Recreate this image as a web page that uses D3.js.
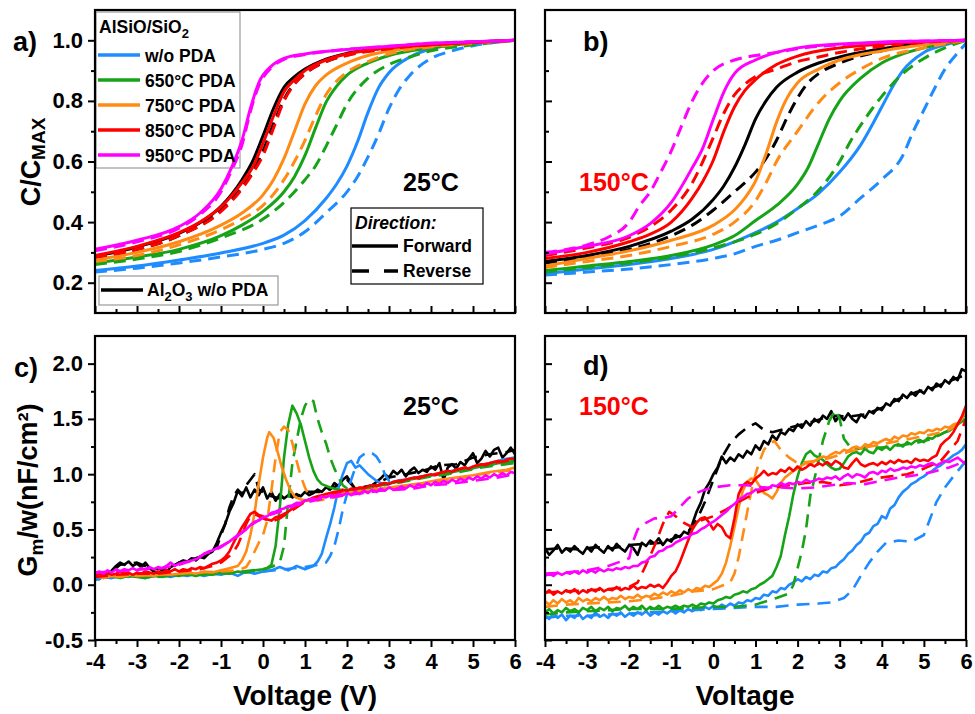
<!DOCTYPE html>
<html><head><meta charset="utf-8">
<script src="https://cdn.jsdelivr.net/npm/d3@7"></script>
<style>
body{margin:0;background:#fff}
svg text{font-family:"Liberation Sans",Arial,sans-serif;font-weight:bold}
</style>
</head><body>
<svg id="chart" width="975" height="714"></svg>
<script>
// ---------- labels / categories ----------
const sampleNames = ["w/o PDA","650°C PDA","750°C PDA","850°C PDA","950°C PDA"];
const xTicks = [-4,-3,-2,-1,0,1,2,3,4,5,6];
const xMinor = [-3.5,-2.5,-1.5,-0.5,0.5,1.5,2.5,3.5,4.5,5.5];
const cTicks = [0.2,0.4,0.6,0.8,1.0];
const cMinor = [0.3,0.5,0.7,0.9];
const gTicks = [-0.5,0,0.5,1.0,1.5,2.0];
const gMinor = [-0.25,0.25,0.75,1.25,1.75];

// fine voltage grid used by the densely sampled (noisy) Gm/w sweeps
const vFine = [-4,-3.9,-3.8,-3.7,-3.6,-3.5,-3.4,-3.3,-3.2,-3.1,
 -3,-2.9,-2.8,-2.7,-2.6,-2.5,-2.4,-2.3,-2.2,-2.1,
 -2,-1.9,-1.8,-1.7,-1.6,-1.5,-1.4,-1.3,-1.2,-1.1,
 -1,-0.9,-0.8,-0.7,-0.6,-0.5,-0.4,-0.3,-0.2,-0.1,
 0,0.1,0.2,0.3,0.4,0.5,0.6,0.7,0.8,0.9,
 1,1.1,1.2,1.3,1.4,1.5,1.6,1.7,1.8,1.9,
 2,2.1,2.2,2.3,2.4,2.5,2.6,2.7,2.8,2.9,
 3,3.1,3.2,3.3,3.4,3.5,3.6,3.7,3.8,3.9,
 4,4.1,4.2,4.3,4.4,4.5,4.6,4.7,4.8,4.9,
 5,5.1,5.2,5.3,5.4,5.5,5.6,5.7,5.8,5.9,6];

// ---------- panel a : C/Cmax, 25°C ----------
const aBlackF=[[-4,.287],[-3,.318],[-2,.363],[-1.5,.398],[-1,.452],[-0.5,.54],[-0.25,.6],[0,.685],[0.25,.775],[0.5,.845],[0.75,.88],[1,.905],[1.5,.938],[2,.957],[3,.976],[4,.986],[5,.994],[6,1]];
const aBlackR=[[-4,.283],[-3,.31],[-2,.355],[-1,.44],[-0.5,.515],[-0.25,.565],[0,.635],[0.25,.725],[0.5,.805],[0.75,.858],[1,.89],[1.5,.93],[2,.952],[3,.973],[4,.986],[5,.994],[6,1]];
const aBlueF=[[-4,.24],[-3,.255],[-2,.275],[-1,.298],[0,.33],[0.5,.357],[1,.405],[1.5,.478],[1.75,.525],[2,.585],[2.25,.665],[2.5,.762],[2.75,.843],[3,.893],[3.5,.945],[4,.972],[5,.992],[6,1]];
const aBlueR=[[-4,.235],[-3,.248],[-2,.265],[-1,.285],[0,.31],[0.5,.33],[1,.368],[1.5,.43],[2,.5],[2.25,.55],[2.5,.615],[2.75,.69],[3,.775],[3.25,.84],[3.5,.885],[4,.94],[4.5,.965],[5,.982],[6,1]];
const aGreenF=[[-4,.265],[-3,.285],[-2,.31],[-1,.355],[-0.5,.39],[0,.435],[0.5,.5],[0.75,.55],[1,.62],[1.25,.71],[1.5,.795],[1.75,.848],[2,.885],[2.5,.925],[3,.95],[4,.975],[5,.99],[6,1]];
const aGreenR=[[-4,.26],[-3,.278],[-2,.303],[-1,.348],[0,.41],[0.5,.465],[1,.54],[1.25,.585],[1.5,.65],[1.75,.72],[2,.79],[2.5,.875],[3,.92],[3.5,.945],[4,.965],[5,.985],[6,1]];
const aOrangeF=[[-4,.275],[-3,.3],[-2,.335],[-1,.39],[-0.5,.43],[0,.49],[0.25,.54],[0.5,.61],[0.75,.7],[1,.79],[1.25,.85],[1.5,.885],[2,.925],[2.5,.95],[3,.965],[4,.982],[5,.993],[6,1]];
const aOrangeR=[[-4,.27],[-3,.29],[-2,.325],[-1,.375],[-0.5,.41],[0,.455],[0.5,.54],[0.75,.6],[1,.67],[1.25,.75],[1.5,.82],[1.75,.865],[2,.895],[2.5,.93],[3,.955],[4,.978],[5,.99],[6,1]];
const aRedF=[[-4,.29],[-3,.32],[-2,.365],[-1.5,.4],[-1,.45],[-0.5,.53],[-0.25,.58],[0,.66],[0.25,.75],[0.5,.83],[0.75,.87],[1,.9],[1.5,.935],[2,.955],[3,.975],[4,.985],[5,.993],[6,1]];
const aRedR=[[-4,.285],[-3,.31],[-2,.355],[-1,.435],[-0.5,.51],[-0.25,.56],[0,.62],[0.25,.71],[0.5,.8],[0.75,.855],[1,.89],[1.5,.93],[2,.95],[3,.972],[4,.985],[5,.993],[6,1]];
const aMagF=[[-4,.31],[-3,.34],[-2,.385],[-1.5,.43],[-1,.51],[-0.75,.58],[-0.5,.67],[-0.3,.775],[-0.1,.86],[0.2,.915],[0.5,.94],[1,.955],[2,.97],[3,.98],[4,.99],[5,.995],[6,1]];
const aMagR=[[-4,.305],[-3,.335],[-2,.38],[-1.5,.425],[-1,.5],[-0.75,.57],[-0.5,.655],[-0.3,.765],[-0.1,.85],[0.2,.91],[0.5,.937],[1,.953],[2,.97],[3,.98],[4,.99],[5,.995],[6,1]];

// ---------- panel b : C/Cmax, 150°C ----------
const bBlackF=[[-4,.27],[-3,.29],[-2,.32],[-1,.37],[-0.5,.41],[0,.475],[0.25,.52],[0.5,.58],[0.75,.655],[1,.74],[1.25,.8],[1.5,.845],[2,.895],[2.5,.925],[3,.945],[4,.972],[5,.99],[6,1]];
const bBlackR=[[-4,.265],[-3,.285],[-2,.31],[-1,.355],[-0.5,.39],[0,.44],[0.5,.5],[1,.565],[1.25,.61],[1.5,.67],[1.75,.745],[2,.81],[2.25,.86],[2.5,.89],[3,.925],[4,.965],[5,.988],[6,1]];
const bBlueF=[[-4,.23],[-3,.245],[-2,.26],[-1,.28],[0,.31],[0.5,.335],[1,.365],[1.5,.4],[2,.445],[2.5,.495],[3,.565],[3.5,.655],[4,.78],[4.25,.845],[4.5,.9],[5,.96],[5.5,.985],[6,1]];
const bBlueR=[[-4,.225],[-3,.235],[-2,.245],[-1,.26],[0,.28],[0.5,.295],[1,.32],[1.5,.34],[2,.365],[2.5,.39],[3,.42],[3.5,.48],[4,.54],[4.5,.62],[4.75,.7],[5,.77],[5.25,.84],[5.5,.905],[5.75,.95],[6,.99]];
const bGreenF=[[-4,.24],[-3,.255],[-2,.27],[-1,.29],[0,.325],[0.5,.355],[1,.405],[1.5,.455],[2,.525],[2.25,.58],[2.5,.66],[2.75,.74],[3,.8],[3.5,.875],[4,.925],[4.5,.955],[5,.975],[6,1]];
const bGreenR=[[-4,.235],[-3,.25],[-2,.265],[-1,.285],[0,.315],[1,.36],[1.5,.395],[2,.445],[2.5,.505],[3,.6],[3.25,.665],[3.5,.72],[3.75,.77],[4,.815],[4.5,.89],[5,.94],[5.5,.975],[6,1]];
const bOrangeF=[[-4,.255],[-3,.28],[-2,.305],[-1,.34],[0,.39],[0.5,.44],[0.75,.48],[1,.535],[1.25,.625],[1.5,.73],[1.75,.81],[2,.86],[2.5,.905],[3,.935],[4,.965],[5,.985],[6,1]];
const bOrangeR=[[-4,.25],[-3,.27],[-2,.29],[-1,.32],[0,.36],[0.5,.4],[1,.47],[1.25,.53],[1.5,.6],[2,.7],[2.5,.795],[3,.86],[3.5,.905],[4,.94],[5,.975],[6,1]];
const bRedF=[[-4,.28],[-3,.3],[-2,.335],[-1.5,.36],[-1,.4],[-0.5,.48],[-0.25,.535],[0,.605],[0.25,.7],[0.5,.78],[0.75,.835],[1,.87],[1.5,.92],[2,.948],[3,.975],[4,.987],[5,.995],[6,1]];
const bRedR=[[-4,.29],[-3,.315],[-2,.35],[-1.5,.385],[-1,.44],[-0.5,.53],[-0.25,.6],[0,.68],[0.25,.76],[0.5,.82],[0.75,.855],[1,.88],[1.5,.905],[2,.93],[2.5,.945],[3,.96],[4,.98],[5,.993],[6,1]];
const bMagF=[[-4,.295],[-3,.32],[-2,.355],[-1.5,.395],[-1,.465],[-0.5,.58],[-0.25,.645],[0,.74],[0.25,.83],[0.5,.89],[1,.935],[1.5,.96],[2,.975],[3,.988],[4,.994],[6,1]];
const bMagR=[[-4,.3],[-3,.325],[-2.5,.35],[-2,.4],[-1.75,.455],[-1.5,.5],[-1.25,.565],[-1,.635],[-0.75,.72],[-0.5,.8],[-0.25,.86],[0,.9],[0.5,.935],[1,.95],[1.5,.96],[2,.972],[3,.985],[4,.993],[6,1]];

// ---------- panel c : Gm/w, 25°C ----------
// dense sweeps (values on vFine)
const cBlackF=[.06,.05,.09,.07,.13,.17,.2,.18,.21,.17,
 .19,.16,.2,.15,.12,.1,.13,.11,.16,.18,
 .2,.22,.21,.24,.22,.25,.24,.28,.3,.38,
 .47,.55,.66,.74,.85,.8,.88,.79,.86,.81,
 .88,.78,.84,.76,.82,.78,.81,.79,.82,.8,
 .84,.81,.83,.86,.84,.88,.86,.92,.89,.95,
 .98,.92,.86,.83,.87,.84,.9,.93,.96,1.0,
 .97,1.03,1.0,1.04,.98,1.03,1.06,1.01,1.04,1.02,
 1.07,1.04,1.1,.95,1.06,1.09,1.05,1.11,1.08,1.14,
 1.19,1.1,1.14,1.21,1.16,1.22,1.24,1.15,1.19,1.24,1.18];
const cMagF=[.1,.12,.1,.13,.11,.14,.12,.14,.13,.15,
 .13,.15,.14,.16,.14,.16,.15,.17,.2,.17,
 .19,.2,.21,.22,.23,.25,.28,.3,.31,.33,
 .35,.37,.39,.42,.45,.47,.5,.54,.57,.58,
 .61,.62,.65,.66,.68,.69,.71,.72,.74,.74,
 .76,.77,.78,.77,.8,.79,.81,.8,.82,.81,
 .83,.81,.84,.82,.85,.83,.86,.84,.87,.85,
 .88,.86,.87,.89,.87,.9,.88,.91,.89,.92,
 .9,.93,.91,.94,.92,.95,.93,.96,.94,.97,
 .95,.98,.96,.99,.97,1.0,.98,1.01,.99,1.02,1.01];
const cRedF=[.08,.1,.09,.11,.09,.1,.12,.1,.11,.09,
 .11,.1,.12,.11,.1,.12,.11,.13,.12,.14,
 .12,.14,.13,.15,.14,.16,.15,.17,.19,.2,
 .22,.25,.3,.38,.45,.52,.58,.64,.66,.63,
 .62,.59,.58,.61,.62,.64,.66,.69,.72,.73,
 .76,.77,.79,.8,.81,.82,.83,.84,.84,.86,
 .85,.87,.86,.88,.87,.89,.9,.89,.91,.92,
 .91,.93,.94,.93,.95,.96,.97,.96,.98,.99,
 1.0,.99,1.01,1.02,1.03,1.02,1.04,1.05,1.06,1.05,
 1.07,1.08,1.09,1.08,1.1,1.11,1.12,1.11,1.13,1.14,1.14];
// sparse sweeps ([V, Gm/w] pairs)
const cBlackR=[[-4,.07],[-3.6,.12],[-3.4,.18],[-3,.2],[-2.6,.14],[-2.2,.15],[-2,.2],[-1.6,.24],[-1.3,.28],[-1.1,.34],[-1,.45],[-0.9,.55],[-0.8,.7],[-0.7,.8],[-0.6,.86],[-0.5,.82],[-0.4,.9],[-0.3,.95],[-0.2,1.0],[-0.1,.86],[0,.84],[0.2,.8],[0.4,.78],[0.6,.83],[0.8,.79],[1,.84],[1.4,.84],[1.8,.9],[2,.95],[2.2,.87],[2.6,.9],[3,.97],[3.4,1.0],[3.8,1.03],[4.2,1.08],[4.6,1.09],[5,1.15],[5.4,1.18],[5.8,1.2],[6,1.22]];
const cBlueF=[[-4,.04],[-3.8,.07],[-3.6,.06],[-3.4,.08],[-3.2,.07],[-3,.09],[-2.8,.06],[-2.6,.08],[-2.4,.09],[-2.2,.07],[-2,.09],[-1.8,.08],[-1.6,.1],[-1.4,.08],[-1.2,.1],[-1,.09],[-0.8,.11],[-0.6,.08],[-0.4,.12],[-0.2,.1],[0,.12],[0.2,.13],[0.4,.16],[0.6,.13],[0.8,.17],[1,.14],[1.2,.17],[1.3,.21],[1.4,.28],[1.5,.42],[1.6,.55],[1.7,.7],[1.8,.88],[1.9,1.0],[2,1.1],[2.1,1.12],[2.2,1.06],[2.3,1.08],[2.5,1.0],[2.7,.94],[2.9,.9],[3.1,.93],[3.4,.95],[3.8,.98],[4.2,1.0],[4.6,1.04],[5,1.06],[5.4,1.1],[5.8,1.14],[6,1.15]];
const cBlueR=[[-4,.06],[-3.5,.07],[-3,.08],[-2.5,.08],[-2,.09],[-1.5,.09],[-1,.1],[-0.5,.11],[0,.12],[0.5,.14],[1,.16],[1.3,.18],[1.5,.2],[1.6,.26],[1.7,.35],[1.8,.5],[1.9,.68],[2,.82],[2.1,.95],[2.2,1.06],[2.3,1.15],[2.4,1.18],[2.5,1.2],[2.6,1.19],[2.7,1.16],[2.8,1.1],[2.9,1.0],[3,.94],[3.4,.95],[3.8,.98],[4.2,1.0],[4.6,1.02],[5,1.05],[5.4,1.08],[6,1.12]];
const cGreenF=[[-4,.07],[-3.8,.09],[-3.6,.08],[-3.4,.06],[-3.2,.08],[-3,.07],[-2.8,.06],[-2.6,.08],[-2.4,.07],[-2.2,.09],[-2,.08],[-1.8,.1],[-1.6,.08],[-1.4,.1],[-1.2,.09],[-1,.11],[-0.8,.1],[-0.6,.12],[-0.4,.11],[-0.2,.13],[0,.14],[0.1,.15],[0.2,.18],[0.3,.35],[0.4,.7],[0.5,1.15],[0.6,1.45],[0.7,1.62],[0.8,1.55],[0.9,1.45],[1.0,1.3],[1.1,1.15],[1.2,1.03],[1.3,.95],[1.4,.91],[1.6,.88],[1.8,.86],[2,.85],[2.4,.87],[2.8,.9],[3.2,.93],[3.6,.96],[4,.99],[4.4,1.01],[4.8,1.04],[5.2,1.07],[5.6,1.1],[6,1.12]];
const cGreenR=[[-4,.07],[-3.5,.07],[-3,.08],[-2.5,.07],[-2,.09],[-1.5,.09],[-1,.1],[-0.5,.12],[0,.14],[0.2,.16],[0.4,.2],[0.5,.35],[0.6,.75],[0.7,1.1],[0.8,1.3],[0.9,1.5],[1.0,1.62],[1.1,1.68],[1.2,1.66],[1.3,1.5],[1.4,1.38],[1.5,1.28],[1.6,1.15],[1.7,1.05],[1.8,.97],[1.9,.9],[2.0,.87],[2.4,.87],[2.8,.9],[3.2,.92],[3.6,.95],[4,.98],[4.4,1.0],[4.8,1.03],[5.2,1.06],[5.6,1.08],[6,1.1]];
const cOrangeF=[[-4,.08],[-3.8,.06],[-3.6,.08],[-3.4,.07],[-3.2,.09],[-3,.08],[-2.8,.09],[-2.6,.08],[-2.4,.1],[-2.2,.09],[-2,.1],[-1.8,.11],[-1.6,.1],[-1.4,.12],[-1.2,.11],[-1,.13],[-0.8,.15],[-0.6,.17],[-0.5,.22],[-0.4,.3],[-0.3,.45],[-0.2,.65],[-0.1,.92],[0,1.15],[0.1,1.33],[0.15,1.38],[0.25,1.33],[0.35,1.2],[0.45,1.06],[0.55,.95],[0.65,.86],[0.75,.8],[0.9,.77],[1.1,.76],[1.4,.79],[1.8,.82],[2.2,.84],[2.6,.86],[3,.88],[3.4,.9],[3.8,.92],[4.2,.95],[4.6,.97],[5,.99],[5.4,1.02],[5.8,1.04],[6,1.06]];
const cOrangeR=[[-4,.07],[-3.5,.08],[-3,.08],[-2.5,.09],[-2,.1],[-1.5,.11],[-1,.12],[-0.6,.13],[-0.4,.16],[-0.3,.22],[-0.2,.3],[-0.1,.38],[0,.45],[0.1,.58],[0.2,.85],[0.3,1.15],[0.4,1.38],[0.5,1.43],[0.6,1.4],[0.7,1.28],[0.8,1.12],[0.9,.98],[1.0,.88],[1.1,.8],[1.3,.76],[1.6,.78],[2,.82],[2.4,.84],[2.8,.86],[3.2,.88],[3.6,.9],[4,.92],[4.4,.95],[4.8,.97],[5.2,1.0],[5.6,1.02],[6,1.04]];
const cRedR=[[-4,.07],[-3.5,.09],[-3,.1],[-2.5,.1],[-2,.12],[-1.5,.14],[-1.2,.17],[-1,.2],[-0.8,.26],[-0.7,.3],[-0.6,.36],[-0.5,.45],[-0.4,.55],[-0.3,.62],[-0.2,.64],[0,.6],[0.2,.57],[0.4,.6],[0.6,.65],[0.8,.7],[1,.75],[1.4,.8],[1.8,.84],[2.2,.87],[2.6,.89],[3,.92],[3.4,.95],[3.8,.98],[4.2,1.01],[4.6,1.04],[5,1.07],[5.4,1.1],[6,1.13]];
const cMagR=[[-4,.11],[-3.6,.12],[-3.2,.13],[-2.8,.14],[-2.4,.15],[-2,.18],[-1.6,.23],[-1.4,.28],[-1.2,.3],[-1,.34],[-0.8,.39],[-0.6,.44],[-0.4,.51],[-0.2,.56],[0,.61],[0.4,.66],[0.8,.72],[1.2,.76],[1.6,.79],[2,.81],[2.4,.83],[2.8,.85],[3.2,.86],[3.6,.87],[4,.9],[4.4,.91],[4.8,.93],[5.2,.95],[5.6,.97],[6,1.0]];

// ---------- panel d : Gm/w, 150°C ----------
// dense forward sweeps (values on vFine)
const dBlackF=[.33,.27,.31,.36,.29,.33,.3,.35,.31,.28,
 .34,.3,.36,.32,.29,.35,.31,.37,.33,.3,
 .36,.33,.27,.38,.35,.4,.37,.42,.36,.41,
 .39,.45,.43,.48,.46,.55,.66,.74,.86,.92,
 1.0,1.06,1.16,1.1,1.15,1.12,1.18,1.15,1.21,1.18,
 1.26,1.22,1.3,1.27,1.35,1.31,1.38,1.36,1.41,1.39,
 1.45,1.42,1.48,1.44,1.5,1.47,1.53,1.5,1.57,1.48,
 1.53,1.49,1.55,1.5,1.47,1.54,1.51,1.57,1.55,1.6,
 1.58,1.64,1.62,1.68,1.66,1.72,1.69,1.74,1.71,1.76,
 1.73,1.79,1.76,1.82,1.79,1.85,1.82,1.88,1.85,1.95,1.93];
const dBlueF=[-.28,-.31,-.26,-.3,-.27,-.32,-.28,-.3,-.26,-.31,
 -.28,-.3,-.25,-.29,-.27,-.3,-.26,-.28,-.25,-.29,
 -.26,-.28,-.25,-.27,-.24,-.28,-.25,-.27,-.24,-.26,
 -.23,-.26,-.23,-.25,-.22,-.24,-.21,-.23,-.2,-.22,
 -.19,-.21,-.18,-.2,-.17,-.19,-.16,-.17,-.14,-.15,
 -.12,-.13,-.09,-.1,-.06,-.07,-.03,-.04,0,.02,
 .05,.03,.07,.05,.09,.08,.12,.11,.15,.16,
 .2,.23,.28,.31,.36,.39,.45,.47,.53,.55,
 .62,.6,.69,.72,.79,.84,.87,.91,.93,.96,
 .98,1.01,1.03,1.06,1.08,1.11,1.14,1.17,1.19,1.22,1.27];
const dGreenF=[-.25,-.22,-.26,-.23,-.25,-.21,-.24,-.22,-.25,-.21,
 -.23,-.2,-.24,-.21,-.23,-.2,-.24,-.21,-.22,-.19,
 -.23,-.2,-.22,-.19,-.23,-.2,-.22,-.19,-.22,-.2,
 -.21,-.19,-.21,-.19,-.2,-.18,-.2,-.17,-.18,-.16,
 -.17,-.14,-.13,-.11,-.12,-.09,-.08,-.06,-.07,-.04,
 -.03,0,.02,.05,.08,.16,.26,.45,.62,.82,
 .98,1.1,1.18,1.21,1.17,1.15,1.13,1.09,1.06,1.04,
 1.05,1.1,1.16,1.19,1.2,1.18,1.23,1.2,1.19,1.24,
 1.22,1.25,1.22,1.26,1.27,1.25,1.29,1.27,1.3,1.31,
 1.29,1.33,1.32,1.35,1.36,1.38,1.39,1.42,1.45,1.5,1.55];
const dOrangeF=[-.15,-.18,-.14,-.17,-.13,-.16,-.14,-.17,-.12,-.15,
 -.13,-.15,-.12,-.14,-.11,-.14,-.12,-.13,-.1,-.13,
 -.11,-.12,-.09,-.12,-.1,-.11,-.08,-.1,-.07,-.09,
 -.06,-.08,-.05,-.07,-.04,-.06,-.03,-.04,-.01,-.02,
 .01,.04,.1,.2,.35,.52,.7,.85,.93,.96,
 .95,.89,.83,.81,.78,.84,.92,.97,1.0,1.03,
 1.05,1.08,1.1,1.09,1.12,1.14,1.16,1.15,1.18,1.2,
 1.19,1.22,1.21,1.24,1.25,1.23,1.27,1.26,1.29,1.28,
 1.3,1.32,1.3,1.34,1.32,1.35,1.34,1.37,1.36,1.38,
 1.37,1.4,1.39,1.41,1.4,1.43,1.42,1.45,1.46,1.5,1.58];
const dRedF=[-.08,-.05,-.09,-.06,-.08,-.05,-.07,-.04,-.08,-.05,
 -.07,-.04,-.06,-.03,-.06,-.04,-.05,-.02,-.05,-.03,
 -.04,-.01,-.04,-.02,-.03,0,-.02,0,-.03,.02,
 .08,.12,.2,.3,.4,.5,.56,.6,.61,.56,
 .5,.55,.52,.45,.42,.6,.82,.9,.93,.91,
 .96,.99,1.03,.99,1.01,1.0,1.04,1.02,1.06,1.03,
 1.07,1.04,1.06,1.09,1.07,1.1,1.08,1.11,1.08,1.12,
 1.1,1.06,1.05,1.1,1.14,1.09,1.07,1.09,1.1,1.08,
 1.11,1.09,1.12,1.1,1.13,1.11,1.12,1.1,1.14,1.12,
 1.13,1.12,1.15,1.17,1.26,1.3,1.33,1.38,1.45,1.52,1.62];
const dMagF=[.08,.1,.08,.11,.09,.11,.1,.12,.1,.13,
 .11,.13,.11,.14,.12,.14,.13,.15,.14,.16,
 .15,.17,.17,.2,.21,.25,.26,.3,.31,.34,
 .35,.38,.4,.42,.43,.46,.47,.5,.52,.55,
 .57,.6,.63,.66,.7,.73,.77,.79,.82,.83,
 .86,.86,.88,.87,.9,.89,.92,.9,.92,.91,
 .93,.92,.95,.93,.94,.96,.95,.97,.96,.98,
 .95,.98,1.0,.97,1.0,.99,.97,1.01,1.02,1.0,
 1.03,1.02,1.05,1.03,1.04,1.06,1.05,1.07,1.06,1.08,
 1.07,1.09,1.1,1.08,1.1,1.12,1.11,1.13,1.15,1.12,1.09];
// sparse reverse sweeps ([V, Gm/w] pairs)
const dBlackR=[[-4,.32],[-3.6,.33],[-3.2,.32],[-2.8,.34],[-2.4,.33],[-2,.36],[-1.6,.37],[-1.2,.38],[-0.8,.44],[-0.6,.48],[-0.4,.58],[-0.2,.75],[0,.95],[0.2,1.15],[0.4,1.28],[0.6,1.36],[0.8,1.42],[1,1.46],[1.2,1.4],[1.4,1.38],[1.6,1.4],[2,1.44],[2.4,1.48],[2.8,1.53],[3.2,1.52],[3.6,1.54],[4,1.6],[4.4,1.68],[4.8,1.74],[5.2,1.78],[5.6,1.84],[6,1.9]];
const dBlueR=[[-4,-.3],[-3.5,-.28],[-3,-.28],[-2.5,-.27],[-2,-.26],[-1.5,-.25],[-1,-.24],[-0.5,-.23],[0,-.22],[0.5,-.21],[1,-.2],[1.5,-.2],[2,-.18],[2.5,-.17],[2.8,-.16],[3.1,-.12],[3.3,-.05],[3.5,.08],[3.7,.2],[3.9,.3],[4.1,.38],[4.4,.4],[4.7,.39],[5,.45],[5.1,.55],[5.3,.75],[5.5,.88],[5.7,.98],[6,1.12]];
const dGreenR=[[-4,-.27],[-3.5,-.25],[-3,-.24],[-2.5,-.23],[-2,-.22],[-1.5,-.22],[-1,-.22],[-0.5,-.21],[0,-.2],[0.5,-.2],[1,-.18],[1.5,-.12],[1.8,-.08],[1.9,0],[2,.15],[2.1,.3],[2.2,.5],[2.3,.8],[2.45,1.04],[2.6,1.3],[2.75,1.48],[2.9,1.58],[3.0,1.5],[3.1,1.32],[3.3,1.22],[3.6,1.24],[4,1.24],[4.4,1.26],[4.8,1.28],[5.2,1.32],[5.6,1.4],[6,1.5]];
const dOrangeR=[[-4,-.2],[-3.5,-.18],[-3,-.17],[-2.5,-.16],[-2,-.15],[-1.5,-.13],[-1,-.1],[-0.5,-.06],[-0.2,-.05],[0,-.04],[0.2,-.01],[0.4,.02],[0.5,.1],[0.6,.25],[0.7,.45],[0.8,.65],[0.9,.85],[1,1.0],[1.1,1.12],[1.2,1.22],[1.3,1.27],[1.45,1.3],[1.6,1.22],[1.8,1.15],[2,1.1],[2.4,1.12],[2.8,1.15],[3.2,1.2],[3.6,1.24],[4,1.27],[4.4,1.3],[4.8,1.33],[5.2,1.36],[5.6,1.4],[6,1.5]];
const dRedR=[[-4,-.07],[-3.5,-.06],[-3,-.05],[-2.5,-.04],[-2,-.02],[-1.8,.02],[-1.6,.18],[-1.4,.35],[-1.2,.55],[-1.05,.66],[-0.9,.62],[-0.7,.56],[-0.5,.52],[-0.3,.58],[0,.62],[0.3,.68],[0.6,.75],[1,.83],[1.4,.88],[1.8,.9],[2.2,.92],[2.6,.93],[3,.9],[3.4,.92],[3.8,.96],[4.2,.98],[4.6,1.0],[5,1.05],[5.4,1.12],[5.8,1.3],[6,1.5]];
const dMagR=[[-4,.1],[-3.5,.11],[-3,.13],[-2.5,.17],[-2.2,.21],[-2,.24],[-1.9,.4],[-1.8,.5],[-1.6,.56],[-1.4,.6],[-1.2,.6],[-1,.62],[-0.8,.7],[-0.6,.78],[-0.4,.83],[-0.2,.86],[0,.88],[0.4,.9],[0.8,.9],[1.2,.88],[1.6,.88],[2,.87],[2.4,.88],[2.8,.9],[3.2,.92],[3.6,.91],[4,.94],[4.4,.97],[4.8,.99],[5.2,1.02],[5.6,1.06],[6,1.12]];

// ---------- styles ----------
const COL = {black:"#000000", blue:"#1e8cff", green:"#17a317", orange:"#ff8a14", red:"#ff0000", mag:"#ff00ff"};
const sampleColors = [COL.blue, COL.green, COL.orange, COL.red, COL.mag];

function pts(s){ return (typeof s[0] === "number") ? d3.zip(vFine, s) : s; }
function seriesSet(F, R){ // drawing order: black, blue, green, orange, red, magenta
  const cols=[COL.black,COL.blue,COL.green,COL.orange,COL.red,COL.mag];
  const out=[];
  cols.forEach((c,i)=>{ out.push({c,dash:false,d:pts(F[i])}); out.push({c,dash:true,d:pts(R[i])}); });
  return out;
}
const panelData = {
  a: seriesSet([aBlackF,aBlueF,aGreenF,aOrangeF,aRedF,aMagF],[aBlackR,aBlueR,aGreenR,aOrangeR,aRedR,aMagR]),
  b: seriesSet([bBlackF,bBlueF,bGreenF,bOrangeF,bRedF,bMagF],[bBlackR,bBlueR,bGreenR,bOrangeR,bRedR,bMagR]),
  c: seriesSet([cBlackF,cBlueF,cGreenF,cOrangeF,cRedF,cMagF],[cBlackR,cBlueR,cGreenR,cOrangeR,cRedR,cMagR]),
  d: seriesSet([dBlackF,dBlueF,dGreenF,dOrangeF,dRedF,dMagF],[dBlackR,dBlueR,dGreenR,dOrangeR,dRedR,dMagR])
};

const svg = d3.select("#chart");
const FONT = '"Liberation Sans",Arial,sans-serif';

const panels = [
  {id:"a", x0:95,  x1:515, y0:10,  y1:313, ydom:[0.1,1.1],  yt:cTicks, ym:cMinor, yLab:true,  xLab:false, smooth:true,  sw:3},
  {id:"b", x0:545, x1:966, y0:10,  y1:313, ydom:[0.1,1.1],  yt:cTicks, ym:cMinor, yLab:false, xLab:false, smooth:true,  sw:3},
  {id:"c", x0:95,  x1:515, y0:336, y1:640, ydom:[-0.5,2.25],yt:gTicks, ym:gMinor, yLab:true,  xLab:true,  smooth:false, sw:2.6},
  {id:"d", x0:545, x1:966, y0:336, y1:640, ydom:[-0.5,2.25],yt:gTicks, ym:gMinor, yLab:false, xLab:true,  smooth:false, sw:2.6}
];

function styleAxis(g){
  g.select(".domain").remove();
  g.selectAll(".tick line").attr("stroke","#000").attr("stroke-width",2);
  g.selectAll(".tick text").attr("fill","#000").attr("font-size",22).attr("font-weight","bold").attr("font-family",FONT);
}

// legend 1 frame first (transparent box, curves run across it)
svg.append("rect").attr("x",96).attr("y",12).attr("width",144).attr("height",156).attr("fill","none").attr("stroke","#999").attr("stroke-width",1.2);

panels.forEach(p=>{
  const x = d3.scaleLinear().domain([-4,6]).range([p.x0,p.x1]);
  const y = d3.scaleLinear().domain(p.ydom).range([p.y1,p.y0]);
  const g = svg.append("g");
  const cid = "clip"+p.id;
  svg.append("clipPath").attr("id",cid).append("rect")
     .attr("x",p.x0).attr("y",p.y0).attr("width",p.x1-p.x0).attr("height",p.y1-p.y0);

  const line = d3.line().x(d=>x(d[0])).y(d=>y(d[1])).curve(p.smooth?d3.curveMonotoneX:d3.curveLinear);
  const lg = g.append("g").attr("clip-path",`url(#${cid})`);
  panelData[p.id].forEach(s=>{
    lg.append("path").attr("d",line(s.d)).attr("fill","none").attr("stroke",s.c)
      .attr("stroke-width",p.sw).attr("stroke-linejoin","round")
      .attr("stroke-dasharray", s.dash ? (p.smooth?"12,7":"13,8") : null);
  });

  const xs = p.xLab ? 7 : -7, xm = p.xLab ? 4 : -4;
  const ys = p.yLab ? 7 : -7, ym = p.yLab ? 4 : -4;
  g.append("g").attr("transform",`translate(0,${p.y1})`)
    .call(d3.axisBottom(x).tickValues(xTicks).tickSize(xs).tickPadding(6).tickFormat(p.xLab? d=>String(d) : ()=>""))
    .call(styleAxis);
  g.append("g").attr("transform",`translate(0,${p.y1})`)
    .call(d3.axisBottom(x).tickValues(xMinor).tickSize(xm).tickFormat(()=>"")).call(styleAxis);
  g.append("g").attr("transform",`translate(${p.x0},0)`)
    .call(d3.axisLeft(y).tickValues(p.yt).tickSize(ys).tickPadding(5).tickFormat(p.yLab? d=>d.toFixed(1) : ()=>""))
    .call(styleAxis);
  g.append("g").attr("transform",`translate(${p.x0},0)`)
    .call(d3.axisLeft(y).tickValues(p.ym).tickSize(ym).tickFormat(()=>"")).call(styleAxis);

  g.append("rect").attr("x",p.x0).attr("y",p.y0).attr("width",p.x1-p.x0).attr("height",p.y1-p.y0)
    .attr("fill","none").attr("stroke","#000").attr("stroke-width",2.2);
});

// panel letters
[["a)",13,51],["b)",583,51],["c)",14,377],["d)",583,375]].forEach(t=>{
  svg.append("text").attr("x",t[1]).attr("y",t[2]).attr("font-size",27).text(t[0]);
});
// temperatures
svg.append("text").attr("x",403).attr("y",191).attr("font-size",25).text("25°C");
svg.append("text").attr("x",403).attr("y",415).attr("font-size",25).text("25°C");
svg.append("text").attr("x",579).attr("y",191).attr("font-size",25).attr("fill","#ff0000").text("150°C");
svg.append("text").attr("x",579).attr("y",415).attr("font-size",25).attr("fill","#ff0000").text("150°C");

// axis titles
const yt1 = svg.append("text").attr("transform","translate(40,162) rotate(-90)").attr("text-anchor","middle").attr("font-size",27);
yt1.append("tspan").text("C/C");
yt1.append("tspan").attr("font-size",19).attr("dy",5).text("MAX");
const yt2 = svg.append("text").attr("transform","translate(37,490) rotate(-90)").attr("text-anchor","middle").attr("font-size",27);
yt2.append("tspan").text("G");
yt2.append("tspan").attr("font-size",19).attr("dy",6).text("m");
yt2.append("tspan").attr("dy",-6).text("/w(nF/cm²)");
svg.append("text").attr("x",305).attr("y",705).attr("text-anchor","middle").attr("font-size",28).text("Voltage (V)");
svg.append("text").attr("x",745).attr("y",705).attr("text-anchor","middle").attr("font-size",28).text("Voltage");

// legend 1 : samples
const L1 = svg.append("g");
const t1 = L1.append("text").attr("x",99).attr("y",33).attr("font-size",17.5);
t1.append("tspan").text("AlSiO/SiO");
t1.append("tspan").attr("font-size",13).attr("dy",5).text("2");
sampleNames.forEach((n,i)=>{
  const yy = 55 + i*25;
  L1.append("line").attr("x1",98).attr("x2",140).attr("y1",yy).attr("y2",yy).attr("stroke",sampleColors[i]).attr("stroke-width",3.5);
  L1.append("text").attr("x",145).attr("y",yy+6.5).attr("font-size",17.5).text(n);
});
// legend 2 : reference
const L2 = svg.append("g");
L2.append("rect").attr("x",99).attr("y",276).attr("width",179).attr("height",29).attr("fill","#fff").attr("stroke","#999").attr("stroke-width",1.2);
L2.append("line").attr("x1",101).attr("x2",143).attr("y1",290).attr("y2",290).attr("stroke","#000").attr("stroke-width",3.5);
const t2 = L2.append("text").attr("x",147).attr("y",296).attr("font-size",17.5);
t2.append("tspan").text("Al");
t2.append("tspan").attr("font-size",13).attr("dy",5).text("2");
t2.append("tspan").attr("dy",-5).text("O");
t2.append("tspan").attr("font-size",13).attr("dy",5).text("3");
t2.append("tspan").attr("dy",-5).text(" w/o PDA");
// legend 3 : direction
const L3 = svg.append("g");
L3.append("rect").attr("x",351).attr("y",208).attr("width",132).attr("height",76).attr("fill","#fff").attr("stroke","#000").attr("stroke-width",1.2);
L3.append("text").attr("x",355).attr("y",229).attr("font-size",17.5).attr("font-style","italic").text("Direction:");
L3.append("line").attr("x1",352).attr("x2",398).attr("y1",246).attr("y2",246).attr("stroke","#000").attr("stroke-width",3.5);
L3.append("text").attr("x",403).attr("y",252).attr("font-size",17.5).text("Forward");
L3.append("line").attr("x1",352).attr("x2",398).attr("y1",271).attr("y2",271).attr("stroke","#000").attr("stroke-width",3.5).attr("stroke-dasharray","17,15,14");
L3.append("text").attr("x",403).attr("y",277).attr("font-size",17.5).text("Reverse");
</script>
</body></html>
